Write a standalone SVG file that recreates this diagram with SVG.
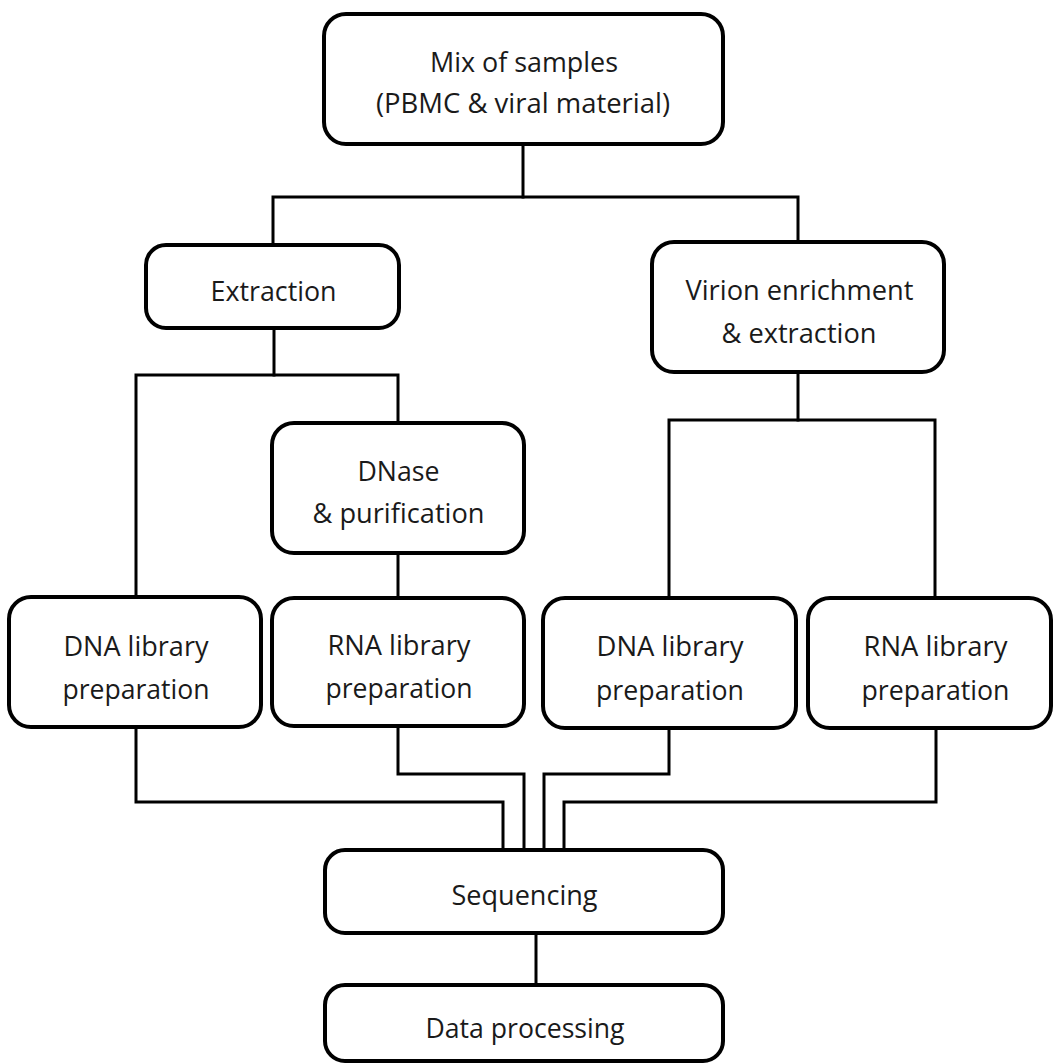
<svg xmlns="http://www.w3.org/2000/svg" width="1053" height="1064" viewBox="0 0 1053 1064">
<style>
.box{fill:#fff;stroke:#000;stroke-width:4}
.con{fill:none;stroke:#000;stroke-width:3;stroke-linejoin:miter;stroke-linecap:square}
text{font-family:"Open Sans","Noto Sans","Liberation Sans",sans-serif;font-size:28px;fill:#1a1a1a;text-anchor:middle}
</style>
<rect width="1053" height="1064" fill="#fff"/>
<g id="connectors">
<path class="con" d="M523 145 V197"/>
<path class="con" d="M273 245 V197 H798 V242"/>
<path class="con" d="M274 328 V375"/>
<path class="con" d="M136 597 V375 H398 V423"/>
<path class="con" d="M398 553 V597"/>
<path class="con" d="M798 372 V420"/>
<path class="con" d="M669 597 V420 H935 V597"/>
<path class="con" d="M136 728 V802 H503 V850"/>
<path class="con" d="M398 727 V774 H524 V850"/>
<path class="con" d="M669 728 V774 H544 V850"/>
<path class="con" d="M936 728 V802 H564 V850"/>
<path class="con" d="M536 933 V985"/>
</g>
<g id="mix">
<rect class="box" x="324" y="14" width="399" height="130" rx="22"/>
<text x="524" y="72" textLength="188" lengthAdjust="spacingAndGlyphs">Mix of samples</text>
<text x="523" y="113" textLength="294" lengthAdjust="spacingAndGlyphs">(PBMC &amp; viral material)</text>
</g>
<g id="extraction">
<rect class="box" x="146" y="245" width="253" height="83" rx="20"/>
<text x="273.5" y="301" textLength="126" lengthAdjust="spacingAndGlyphs">Extraction</text>
</g>
<g id="virion">
<rect class="box" x="652" y="242" width="292" height="130" rx="22"/>
<text x="799.5" y="300" textLength="228" lengthAdjust="spacingAndGlyphs">Virion enrichment</text>
<text x="799" y="343" textLength="155" lengthAdjust="spacingAndGlyphs">&amp; extraction</text>
</g>
<g id="dnase">
<rect class="box" x="272" y="423" width="252" height="130" rx="22"/>
<text x="398.5" y="481" textLength="82" lengthAdjust="spacingAndGlyphs">DNase</text>
<text x="398.5" y="523" textLength="172" lengthAdjust="spacingAndGlyphs">&amp; purification</text>
</g>
<g id="dna-lib-1">
<rect class="box" x="9" y="597" width="252" height="130" rx="22"/>
<text x="136" y="656" textLength="145" lengthAdjust="spacingAndGlyphs">DNA library</text>
<text x="136" y="699" textLength="147" lengthAdjust="spacingAndGlyphs">preparation</text>
</g>
<g id="rna-lib-1">
<rect class="box" x="272" y="598" width="252" height="128" rx="22"/>
<text x="399" y="655" textLength="143" lengthAdjust="spacingAndGlyphs">RNA library</text>
<text x="399" y="698" textLength="147" lengthAdjust="spacingAndGlyphs">preparation</text>
</g>
<g id="dna-lib-2">
<rect class="box" x="543" y="598" width="253" height="130" rx="22"/>
<text x="670" y="656" textLength="147" lengthAdjust="spacingAndGlyphs">DNA library</text>
<text x="670" y="700" textLength="148" lengthAdjust="spacingAndGlyphs">preparation</text>
</g>
<g id="rna-lib-2">
<rect class="box" x="808" y="598" width="243" height="130" rx="22"/>
<text x="935.5" y="656" textLength="144" lengthAdjust="spacingAndGlyphs">RNA library</text>
<text x="935.5" y="700" textLength="148" lengthAdjust="spacingAndGlyphs">preparation</text>
</g>
<g id="sequencing">
<rect class="box" x="325" y="850" width="398" height="83" rx="20"/>
<text x="524.5" y="905" textLength="146" lengthAdjust="spacingAndGlyphs">Sequencing</text>
</g>
<g id="data-processing">
<rect class="box" x="325" y="985" width="398" height="76" rx="20"/>
<text x="525" y="1038" textLength="199" lengthAdjust="spacingAndGlyphs">Data processing</text>
</g>
</svg>
